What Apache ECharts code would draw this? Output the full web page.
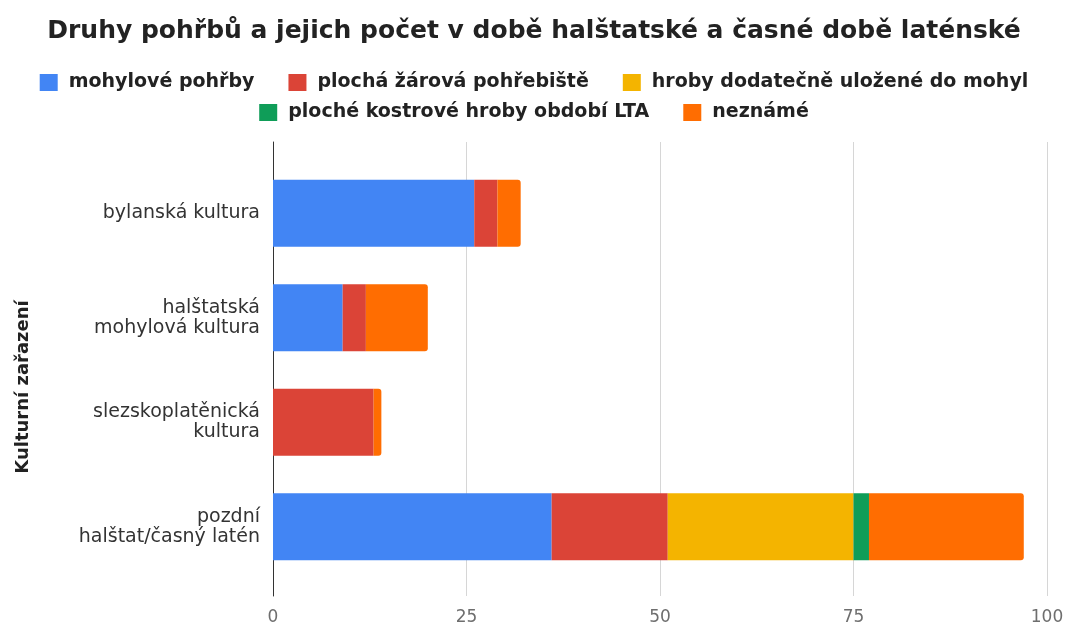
<!DOCTYPE html>
<html>
<head>
<meta charset="utf-8">
<script src="https://cdn.jsdelivr.net/npm/echarts@6/dist/echarts.min.js"></script>
<style>
  html, body { margin: 0; padding: 0; background: #fff; }
  #chart { width: 1068px; height: 632px; }
</style>
</head>
<body>
<div id="chart"></div>
<script>
// Culture groups, top to bottom
const categories = [
  'bylanská kultura',
  'halštatská\nmohylová kultura',
  'slezskoplatěnická\nkultura',
  'pozdní\nhalštat/časný latén'
];

// Burial counts per type
const mohylovePohrby = [26, 9, 0, 36];
const plochaZarova = [3, 3, 13, 15];
const hrobyDodatecne = [0, 0, 0, 24];
const plocheKostrove = [0, 0, 0, 2];
const nezname = [3, 8, 1, 20];

const seriesNames = [
  'mohylové pohřby',
  'plochá žárová pohřebiště',
  'hroby dodatečně uložené do mohyl',
  'ploché kostrové hroby období LTA',
  'neznámé'
];
const seriesValues = [mohylovePohrby, plochaZarova, hrobyDodatecne, plocheKostrove, nezname];
const seriesColors = ['#4285f4', '#db4437', '#f4b400', '#0f9d58', '#ff6d01'];

const xTicks = [0, 25, 50, 75, 100];

// index of the outermost non-empty segment for each category (gets rounded ends)
const lastSeg = categories.map((_, ci) => {
  let last = -1;
  seriesValues.forEach((vals, si) => { if (vals[ci] > 0) last = si; });
  return last;
});

const series = seriesNames.map((name, si) => ({
  name,
  type: 'bar',
  stack: 'total',
  xAxisIndex: 0,
  yAxisIndex: 0,
  barWidth: 67,
  itemStyle: { color: seriesColors[si] },
  data: seriesValues[si].map((v, ci) => (
    lastSeg[ci] === si
      ? { value: v, itemStyle: { borderRadius: [0, 3, 3, 0] } }
      : v
  ))
}));

const chart = echarts.init(document.getElementById('chart'), null, { renderer: 'canvas' });
const font = '"DejaVu Sans", Verdana, sans-serif';

const legendText = { fontSize: 19, fontWeight: 'bold', color: '#222', fontFamily: font, padding: [0, 0, 0, 6] };

chart.setOption({
  backgroundColor: '#ffffff',
  animation: false,
  textStyle: { fontFamily: font },
  title: {
    text: 'Druhy pohřbů a jejich počet v době halštatské a časné době laténské',
    left: 'center',
    top: 14,
    textStyle: { fontSize: 25, fontWeight: 'bold', color: '#222', fontFamily: font }
  },
  legend: [
    {
      data: seriesNames.slice(0, 3),
      top: 68,
      left: 'center',
      icon: 'rect',
      itemWidth: 18,
      itemHeight: 17,
      itemGap: 34,
      textStyle: legendText
    },
    {
      data: seriesNames.slice(3),
      top: 98,
      left: 'center',
      icon: 'rect',
      itemWidth: 18,
      itemHeight: 17,
      itemGap: 34,
      textStyle: legendText
    }
  ],
  grid: [
    // bars
    { left: 273, right: 21, top: 161, bottom: 53 },
    // gridlines, tick labels and baseline (taller than the bar area)
    { left: 273, right: 21, top: 142, bottom: 36 }
  ],
  xAxis: [
    {
      gridIndex: 0,
      type: 'value',
      min: 0,
      max: 100,
      interval: 25,
      show: false
    },
    {
      gridIndex: 1,
      type: 'value',
      min: xTicks[0],
      max: xTicks[xTicks.length - 1],
      interval: 25,
      axisLine: { show: false },
      axisTick: { show: false },
      axisLabel: { color: '#6e6e6e', fontSize: 17, margin: 13, fontFamily: font },
      splitLine: { show: true, lineStyle: { color: '#d6d6d6', width: 1 } }
    }
  ],
  yAxis: [
    {
      gridIndex: 0,
      type: 'category',
      data: categories,
      inverse: true,
      axisLine: { show: false },
      axisTick: { show: false },
      axisLabel: { color: '#333', fontSize: 19, lineHeight: 20, margin: 13, align: 'right', fontFamily: font },
      name: 'Kulturní zařazení',
      nameLocation: 'middle',
      nameRotate: 90,
      nameGap: 241,
      nameTextStyle: { fontSize: 18, fontWeight: 'bold', color: '#222', fontFamily: font, padding: [0, 34, 0, 0] }
    },
    {
      gridIndex: 1,
      type: 'value',
      min: 0,
      max: 1,
      axisLine: { show: true, onZero: false, lineStyle: { color: '#333', width: 1 } },
      axisTick: { show: false },
      axisLabel: { show: false },
      splitLine: { show: false }
    }
  ],
  series
});
</script>
</body>
</html>
